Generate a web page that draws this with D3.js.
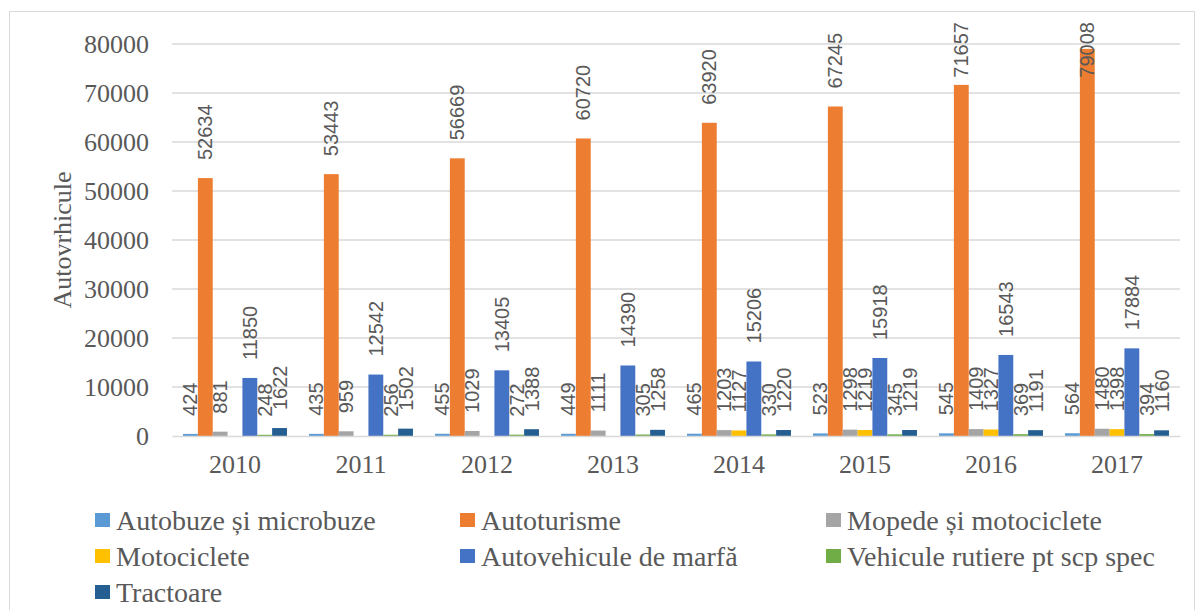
<!DOCTYPE html>
<html><head><meta charset="utf-8">
<script src="https://cdn.jsdelivr.net/npm/d3@7"></script>
<style>body{margin:0;background:#fff}svg{display:block}</style>
</head><body>
<svg id="chart" width="1204" height="610"></svg>
<script>
const years = ["2010","2011","2012","2013","2014","2015","2016","2017"];
const seriesNames = ["Autobuze și microbuze","Autoturisme","Mopede și motociclete","Motociclete","Autovehicule de marfă","Vehicule rutiere pt scp spec","Tractoare"];
const autobuze    = [424,435,455,449,465,523,545,564];
const autoturisme = [52634,53443,56669,60720,63920,67245,71657,79008];
const mopede      = [881,959,1029,1111,1203,1298,1409,1480];
const motociclete = [null,null,null,null,1127,1219,1327,1398];
const marfa       = [11850,12542,13405,14390,15206,15918,16543,17884];
const speciale    = [248,256,272,305,330,345,369,394];
const tractoare   = [1622,1502,1388,1258,1220,1219,1191,1160];
const yTicks = [0,10000,20000,30000,40000,50000,60000,70000,80000];
const colors = ["#5B9BD5","#ED7D31","#A5A5A5","#FFC000","#4472C4","#70AD47","#255E91"];
const yTitle = "Autovrhicule";

const values = [autobuze, autoturisme, mopede, motociclete, marfa, speciale, tractoare];
const svg = d3.select("#chart");
const serif = "'Liberation Serif', 'DejaVu Serif', serif";
const sans = "'Liberation Sans', Arial, sans-serif";
const txt = "#595959";

// outer border
svg.append("rect").attr("x",9.5).attr("y",11.5).attr("width",1185).attr("height",620)
  .attr("fill","none").attr("stroke","#d9d9d9").attr("stroke-width",1);

const L = 172, R = 1180, T = 44, B = 436;
const y = d3.scaleLinear().domain([0,80000]).range([B,T]);
const x0 = d3.scaleBand().domain(years).range([L,R]).paddingInner(0.175).paddingOuter(0.0875);
const x1 = d3.scaleBand().domain(d3.range(seriesNames.length)).range([0,x0.bandwidth()]);

// gridlines
svg.append("g").selectAll("line").data(yTicks.filter(d=>d>0)).join("line")
  .attr("x1",L).attr("x2",R).attr("y1",d=>y(d)).attr("y2",d=>y(d))
  .attr("stroke","#d9d9d9").attr("stroke-width",1.5);

// y axis labels
const yAxis = svg.append("g").attr("transform",`translate(${L},0)`)
  .call(d3.axisLeft(y).tickValues(yTicks).tickSize(0).tickPadding(23).tickFormat(d3.format("d")));
yAxis.select(".domain").remove();
yAxis.selectAll("text").attr("font-family",serif).attr("font-size",26).attr("fill",txt);

// bars
const groups = svg.append("g").selectAll("g").data(years).join("g")
  .attr("transform",d=>`translate(${x0(d)},0)`);
groups.selectAll("rect").data((d,i)=>values.map((s,k)=>({k, v:s[i]})).filter(e=>e.v!=null)).join("rect")
  .attr("x",e=>x1(e.k)).attr("width",x1.bandwidth())
  .attr("y",e=>y(e.v)).attr("height",e=>B-y(e.v))
  .attr("fill",e=>colors[e.k]);

// x axis
const xAxis = svg.append("g").attr("transform",`translate(0,${B})`)
  .call(d3.axisBottom(x0).tickSize(0).tickPadding(19));
xAxis.select(".domain").attr("stroke","#d9d9d9").attr("stroke-width",1.5);
xAxis.selectAll("text").attr("font-family",serif).attr("font-size",26).attr("fill",txt);

// value labels
const labelG = svg.append("g");
values.forEach((s,k)=>{
  years.forEach((yr,i)=>{
    const v = s[i];
    if (v==null) return;
    const cx = x0(yr)+x1(k)+x1.bandwidth()/2;
    const t = labelG.append("text").text(v)
      .attr("font-family",sans).attr("font-size",20).attr("fill",txt)
      .attr("dominant-baseline","central").attr("text-anchor","start");
    const len = t.node().getComputedTextLength();
    let start = y(v) - 18;
    if (start - len < 22) start = 22 + len;
    t.attr("transform",`translate(${cx},${start}) rotate(-90)`);
  });
});

// y title
svg.append("text").text(yTitle)
  .attr("transform","translate(62,240) rotate(-90)")
  .attr("text-anchor","middle").attr("dominant-baseline","central")
  .attr("font-family",serif).attr("font-size",26).attr("fill",txt);

// legend
const colX = [95,460,826], rowY = [520,556,592];
const leg = svg.append("g").selectAll("g").data(seriesNames).join("g")
  .attr("transform",(d,i)=>`translate(${colX[i%3]},${rowY[Math.floor(i/3)]})`);
leg.append("rect").attr("x",0).attr("y",-7).attr("width",15).attr("height",14)
  .attr("fill",(d,i)=>colors[i]);
leg.append("text").text(d=>d).attr("x",21).attr("y",0).attr("dominant-baseline","central")
  .attr("font-family",serif).attr("font-size",28).attr("fill",txt);
</script>
</body></html>
